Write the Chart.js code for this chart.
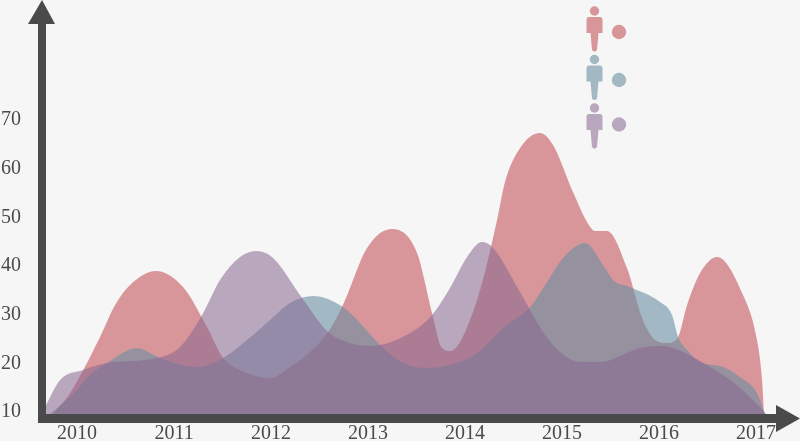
<!DOCTYPE html>
<html><head><meta charset="utf-8">
<style>html,body{margin:0;padding:0;background:#f6f6f6;overflow:hidden}canvas{display:block}</style>
<script src="https://cdn.jsdelivr.net/npm/chart.js@4/dist/chart.umd.min.js"></script>
</head><body><canvas id="c" width="800" height="441"></canvas>
<script>
const yearTicks=[2010,2011,2012,2013,2014,2015,2016,2017];
const valueTicks=[10,20,30,40,50,60,70];
const pinkYears=[2009.753,2009.928,2010.237,2010.392,2010.546,2010.814,2011.093,2011.340,2011.505,2011.680,2011.990,2012.196,2012.402,2012.588,2012.742,2012.990,2013.247,2013.505,2013.660,2013.763,2013.845,2013.948,2014.155,2014.330,2014.412,2014.567,2014.773,2014.907,2015.113,2015.258,2015.340,2015.464,2015.670,2015.825,2015.938,2016.082,2016.196,2016.289,2016.423,2016.598,2016.866,2017.010,2017.062,2017.082];
const pinkValues=[9.18,13.49,25.0,31.57,35.68,38.56,35.27,27.05,20.68,18.22,16.58,18.84,21.92,26.03,31.57,43.29,47.19,42.26,29.93,22.74,22.12,23.97,34.66,49.04,56.85,63.83,66.92,64.45,54.79,48.63,46.78,46.78,39.18,28.90,24.79,23.77,25.0,31.57,38.15,41.44,33.63,24.38,16.16,9.18];
const purpleYears=[2009.680,2009.825,2010.062,2010.309,2010.825,2011.062,2011.289,2011.474,2011.680,2011.856,2012.021,2012.320,2012.588,2012.814,2013.021,2013.433,2013.660,2013.845,2014.021,2014.175,2014.289,2014.567,2014.804,2014.979,2015.186,2015.392,2015.804,2016.041,2016.247,2016.495,2016.763,2016.969,2017.103];
const purpleValues=[11.0,16.16,18.22,19.66,20.68,22.94,29.52,36.71,41.44,42.67,41.23,33.01,26.03,23.77,23.15,25.82,29.52,35.07,41.44,44.52,43.29,34.25,26.03,21.92,19.86,19.86,22.74,23.15,21.92,19.25,15.75,12.05,9.18];
const blueYears=[2009.722,2009.979,2010.134,2010.309,2010.619,2010.856,2011.237,2011.505,2011.753,2011.990,2012.196,2012.433,2012.742,2012.918,2013.124,2013.361,2013.608,2013.845,2014.124,2014.392,2014.670,2014.845,2015.010,2015.237,2015.443,2015.526,2015.701,2016.010,2016.134,2016.196,2016.289,2016.423,2016.660,2016.835,2017.010,2017.093];
const blueValues=[9.18,13.70,17.19,19.66,22.74,20.68,18.84,20.68,24.38,28.49,31.99,33.42,31.16,27.88,23.36,19.66,18.63,19.25,21.71,26.85,31.16,36.30,41.23,44.31,39.18,36.71,35.27,32.19,29.52,25.0,22.33,19.86,18.84,16.78,13.49,9.18];
const pts=(xs,ys)=>xs.map((x,i)=>({x,y:ys[i]}));
const ds=(xs,ys,c,order)=>({data:pts(xs,ys),fill:'start',backgroundColor:c,borderWidth:0,pointRadius:0,cubicInterpolationMode:'monotone',order});
const DARK='#4a4a4a';
const decor={id:'decor',afterDatasetsDraw(ch){
  const g=ch.ctx;g.save();g.fillStyle=DARK;
  g.fillRect(38,20,8,403);g.fillRect(38,414,740,9);
  g.beginPath();g.moveTo(42,0);g.lineTo(55,24);g.lineTo(28,24);g.closePath();g.fill();
  g.beginPath();g.moveTo(800,418.5);g.lineTo(776,405);g.lineTo(776,432);g.closePath();g.fill();
  const icons=[['#d99699',0,0],['#a2b9c4',48.5,48],['#b9a7be',97,92.5]];
  for(const [col,dy,cdy] of icons){
    g.fillStyle=col;
    g.beginPath();g.arc(594.5,11+dy,4.7,0,7);g.fill();
    g.beginPath();g.moveTo(589,17+dy);g.lineTo(600,17+dy);g.quadraticCurveTo(602.5,17+dy,602.5,20+dy);
    g.lineTo(602.5,33+dy);g.lineTo(598.5,33+dy);g.lineTo(597,50+dy);g.quadraticCurveTo(594.5,53+dy,592,50+dy);
    g.lineTo(590.5,33+dy);g.lineTo(586.5,33+dy);g.lineTo(586.5,20+dy);g.quadraticCurveTo(586.5,17+dy,589,17+dy);g.fill();
    g.beginPath();g.arc(619,32+cdy,7.2,0,7);g.fill();
  }
  g.restore();
}};
const font={family:'"Liberation Serif",serif',size:20};
const noPad=s=>{s.paddingTop=s.paddingBottom=s.paddingLeft=s.paddingRight=0};
new Chart(document.getElementById('c'),{type:'line',
 data:{datasets:[
  ds(pinkYears,pinkValues,'rgba(205,110,115,0.7)',3),
  ds(purpleYears,purpleValues,'rgba(135,102,144,0.55)',1),
  ds(blueYears,blueValues,'rgba(106,144,163,0.6)',2)]},
 options:{responsive:false,animation:false,devicePixelRatio:1,
  layout:{padding:{top:24,left:0,right:20,bottom:0}},
  plugins:{legend:{display:false},tooltip:{enabled:false},title:{display:false}},
  scales:{
   x:{type:'linear',min:2009.68,max:2017.247,grid:{display:false},border:{display:false},
      afterFit(s){s.height=27;noPad(s)},
      afterBuildTicks(s){s.ticks=yearTicks.map(value=>({value}))},
      ticks:{padding:0,color:DARK,font,maxRotation:0,autoSkip:false,callback:v=>String(v)}},
   y:{min:9.178,max:89.31,grid:{display:false},border:{display:false},
      afterFit(s){s.width=46;noPad(s)},
      afterBuildTicks(s){s.ticks=valueTicks.map(value=>({value}))},
      ticks:{padding:17,labelOffset:2,color:DARK,font,autoSkip:false,callback:v=>String(v)}}
  }},
 plugins:[decor]});
</script></body></html>
